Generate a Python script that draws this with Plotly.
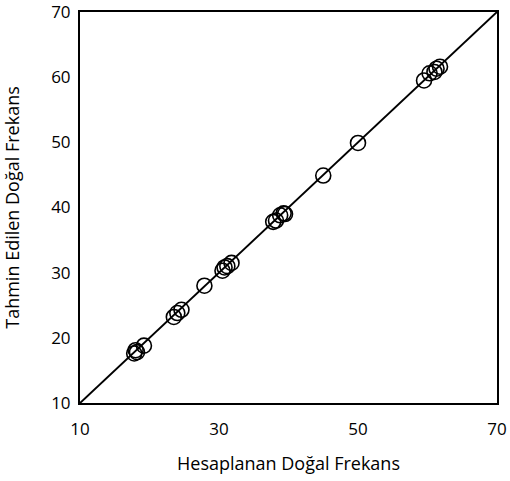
import plotly.graph_objects as go

computed = [17.8, 18.0, 18.2, 19.2, 23.5, 24.0, 24.6, 27.9, 30.5, 30.8, 31.2, 31.8,
            37.8, 38.2, 38.8, 39.3, 39.5, 45.0, 50.0, 59.5, 60.3, 61.0, 61.3, 61.8]
predicted = [17.6, 18.1, 17.8, 18.8, 23.2, 23.8, 24.3, 28.0, 30.3, 30.8, 31.0, 31.5,
             37.8, 38.0, 38.8, 39.1, 39.0, 44.9, 49.9, 59.5, 60.6, 60.8, 61.3, 61.6]
line_x = [10, 70]
line_y = [10, 70]
x_ticks = [10, 30, 50, 70]
y_ticks = [10, 20, 30, 40, 50, 60, 70]

fig = go.Figure()
fig.add_trace(go.Scatter(x=line_x, y=line_y, mode="lines",
                         line=dict(color="black", width=2), showlegend=False))
fig.add_trace(go.Scatter(x=computed, y=predicted, mode="markers",
                         marker=dict(symbol="circle-open", size=15, color="black",
                                     line=dict(width=1.6, color="black")),
                         showlegend=False))

font = "Open Sans, Liberation Sans, sans-serif"
fig.update_layout(
    width=510, height=481,
    margin=dict(l=80, r=13, t=12, b=78, autoexpand=False),
    paper_bgcolor="white", plot_bgcolor="white",
    font=dict(family=font, color="black"),
)
fig.update_xaxes(range=[10, 70], tickvals=x_ticks, showgrid=False, zeroline=False,
                 showline=True, linecolor="black", linewidth=2, mirror=True,
                 ticks="", tickfont=dict(size=17), automargin=False, ticklabelstandoff=10,
                 ticklabeloverflow="allow",
                 title=dict(text="Hesaplanan Doğal Frekans", font=dict(size=18), standoff=18))
fig.update_yaxes(range=[10, 70], tickvals=y_ticks, showgrid=False, zeroline=False,
                 showline=True, linecolor="black", linewidth=2, mirror=True,
                 ticks="", tickfont=dict(size=17), automargin=False, ticklabelstandoff=4,
                 ticklabeloverflow="allow",
                 title=dict(text="Tahmin Edilen Doğal Frekans", font=dict(size=18), standoff=30))
fig.write_html("out.html",
               config={"displayModeBar": False},
               post_script="document.body.style.margin='0';document.body.style.overflow='hidden';")
